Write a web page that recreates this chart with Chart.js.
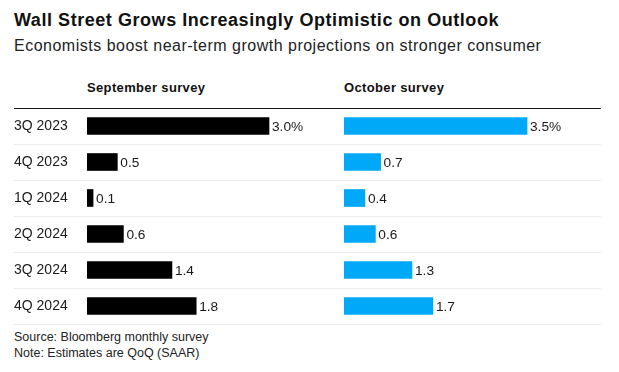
<!DOCTYPE html>
<html>
<head>
<meta charset="utf-8">
<script src="https://cdn.jsdelivr.net/npm/chart.js@4"></script>
<style>
  html, body { margin: 0; padding: 0; background: #fff; }
  body { width: 619px; height: 372px; position: relative; overflow: hidden; font-family: "Liberation Sans", Arial, sans-serif; color: #111; }
  .t { position: absolute; white-space: nowrap; }
  #title { left: 14px; top: 8px; font-size: 18px; letter-spacing: 0.55px; font-weight: bold; line-height: 24px; }
  #subtitle { left: 14px; top: 36px; font-size: 16px; letter-spacing: 0.5px; line-height: 20px; color: #222; }
  .hdr { top: 80px; font-size: 13px; letter-spacing: 0.35px; font-weight: bold; line-height: 16px; }
  #h1 { left: 87px; }
  #h2 { left: 344px; }
  #foot { left: 14px; top: 329px; font-size: 12.5px; line-height: 16px; color: #222; }
  #c1wrap { position: absolute; left: 0; top: 98px; width: 344px; height: 236px; }
  #c2wrap { position: absolute; left: 344px; top: 98px; width: 275px; height: 236px; }
</style>
</head>
<body>
<div class="t" id="title">Wall Street Grows Increasingly Optimistic on Outlook</div>
<div class="t" id="subtitle">Economists boost near-term growth projections on stronger consumer</div>
<div class="t hdr" id="h1">September survey</div>
<div class="t hdr" id="h2">October survey</div>
<div class="t" id="foot">Source: Bloomberg monthly survey<br>Note: Estimates are QoQ (SAAR)</div>
<div id="c1wrap"><canvas id="c1"></canvas></div>
<div id="c2wrap"><canvas id="c2"></canvas></div>
<script>
const quarters = ["3Q 2023", "4Q 2023", "1Q 2024", "2Q 2024", "3Q 2024", "4Q 2024"];
const septemberSurvey = [3.0, 0.5, 0.1, 0.6, 1.4, 1.8];
const octoberSurvey = [3.5, 0.7, 0.4, 0.6, 1.3, 1.7];
const seriesNames = ["September survey", "October survey"];

const FONT = '"Liberation Sans", Arial, sans-serif';
const gridColor = (ctx) => ctx.index === 0 ? '#1a1a1a' : '#ececec';

const valueLabels = {
  id: 'valueLabels',
  afterDatasetsDraw(chart) {
    const ctx = chart.ctx;
    ctx.save();
    ctx.font = '13.7px ' + FONT;
    ctx.fillStyle = '#1a1a1a';
    ctx.textBaseline = 'middle';
    ctx.textAlign = 'left';
    chart.data.datasets.forEach((ds, di) => {
      chart.getDatasetMeta(di).data.forEach((bar, i) => {
        const v = ds.data[i];
        const txt = v.toFixed(1) + (i === 0 ? '%' : '');
        ctx.fillText(txt, bar.x + 3, bar.y + 1);
      });
    });
    ctx.restore();
  }
};

function makeChart(id, data, color, name, max, showLabels, padLeft, padRight) {
  return new Chart(document.getElementById(id), {
    type: 'bar',
    data: {
      labels: quarters,
      datasets: [{
        label: name,
        data: data,
        backgroundColor: color,
        borderWidth: 0,
        barThickness: 17
      }]
    },
    options: {
      indexAxis: 'y',
      responsive: true,
      maintainAspectRatio: false,
      animation: false,
      layout: { padding: { left: padLeft, right: padRight, top: 10, bottom: 10 } },
      plugins: { legend: { display: false }, tooltip: { enabled: false } },
      scales: {
        x: { display: false, min: 0, max: max },
        y: {
          display: true,
          offset: true,
          border: { display: false },
          grid: {
            offset: true,
            color: gridColor,
            lineWidth: 1,
            drawTicks: showLabels,
            tickLength: 73
          },
          ticks: {
            display: showLabels,
            crossAlign: 'far',
            padding: 0,
            color: '#1a1a1a',
            font: { family: FONT, size: 14 }
          },
          afterFit(scale) { scale.width = showLabels ? 73 : 0; }
        }
      }
    },
    plugins: [valueLabels]
  });
}

makeChart('c1', septemberSurvey, '#000000', seriesNames[0], 4.236, true, 14, 0);
makeChart('c2', octoberSurvey, '#00a9f7', seriesNames[1], 4.915, false, 0, 18);
</script>
</body>
</html>
